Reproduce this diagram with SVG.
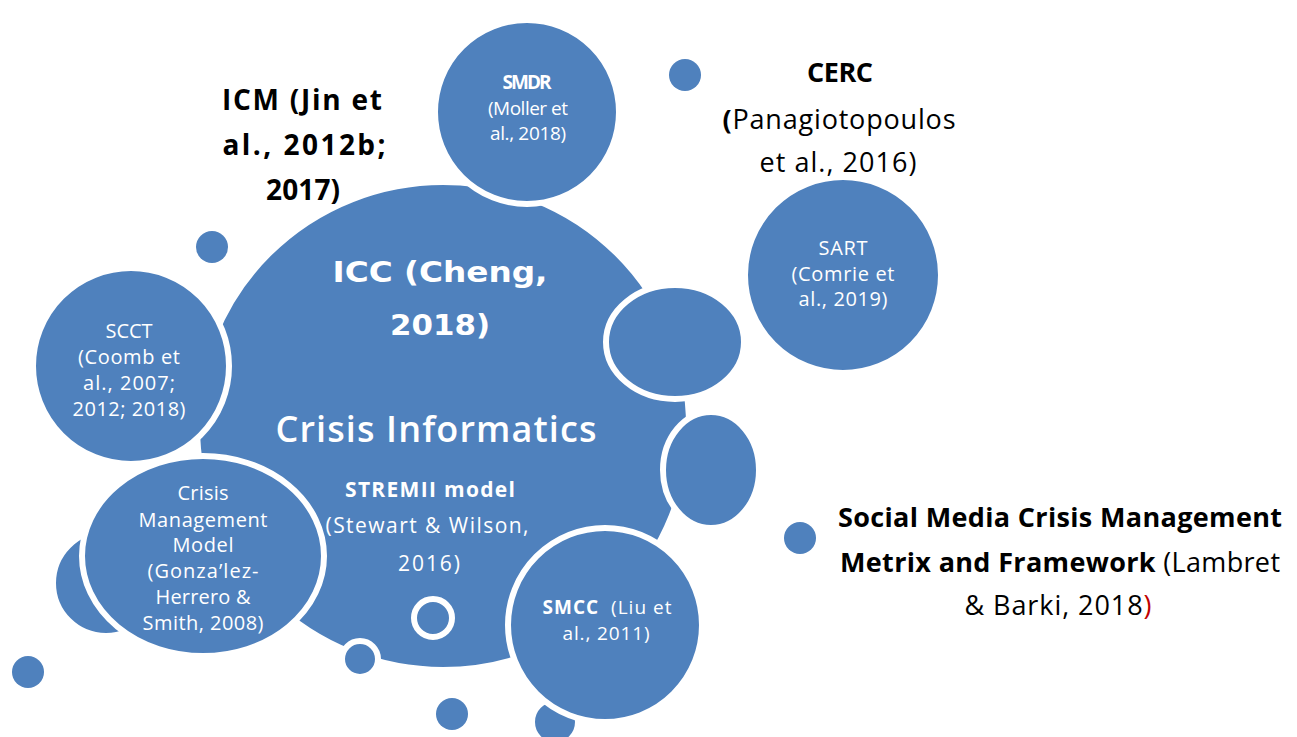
<svg xmlns="http://www.w3.org/2000/svg" width="1297" height="737" viewBox="0 0 1297 737">
<style>
.b{fill:#4f81bd;stroke:#fff;stroke-width:6}
.d{fill:#4f81bd}
.t{font-family:"Open Sans",Lato,sans-serif;fill:#fff;text-anchor:middle}
.k{font-family:"Open Sans",Lato,sans-serif;fill:#000;text-anchor:middle}
.v{font-family:"DejaVu Sans",sans-serif;font-weight:bold;fill:#fff;text-anchor:middle}
.bo{font-weight:bold}
</style>
<rect width="1297" height="737" fill="#fff"/>
<g id="dots">
<circle class="d" cx="685" cy="75" r="16"/>
<circle class="d" cx="212" cy="247" r="16"/>
<circle class="d" cx="28" cy="672" r="16"/>
<circle class="d" cx="800" cy="538" r="16"/>
<circle class="d" cx="452" cy="714" r="16"/>
</g>
<g id="crisis-informatics">
<ellipse class="b" cx="443" cy="426" rx="246" ry="244"/>
<text class="v" x="440" y="282" font-size="28" textLength="215" lengthAdjust="spacingAndGlyphs">ICC (Cheng,</text>
<text class="v" x="440" y="335" font-size="28" textLength="100" lengthAdjust="spacingAndGlyphs">2018)</text>
<text class="t" x="436" y="442" font-size="36" font-weight="600" textLength="321">Crisis Informatics</text>
<text class="t bo" x="430" y="497" font-size="21" textLength="170">STREMII model</text>
<text class="t" x="427" y="533" font-size="21" textLength="203">(Stewart &amp; Wilson,</text>
<text class="t" x="429" y="571" font-size="21" textLength="62">2016)</text>
</g>
<g id="smdr">
<circle class="b" cx="527" cy="112" r="92"/>
<text class="t bo" x="527" y="89" font-size="19" textLength="49">SMDR</text>
<text class="t" x="528" y="115" font-size="19" textLength="80">(Moller et</text>
<text class="t" x="528" y="140" font-size="19" textLength="76">al., 2018)</text>
</g>
<g id="blob-a"><ellipse class="b" cx="675" cy="342" rx="69" ry="57"/></g>
<g id="blob-b"><ellipse class="b" cx="711" cy="470" rx="48" ry="58"/></g>
<g id="sart">
<circle class="b" cx="843" cy="275" r="98"/>
<text class="t" x="843" y="255" font-size="20" textLength="49">SART</text>
<text class="t" x="843" y="281" font-size="20" textLength="103">(Comrie et</text>
<text class="t" x="843" y="306" font-size="20" textLength="89">al., 2019)</text>
</g>
<g id="scct">
<circle class="b" cx="131" cy="366" r="98"/>
<text class="t" x="129" y="338" font-size="20" textLength="47">SCCT</text>
<text class="t" x="129" y="364" font-size="20" textLength="102">(Coomb et</text>
<text class="t" x="129" y="390" font-size="20" textLength="92">al., 2007;</text>
<text class="t" x="129" y="416" font-size="20" textLength="113">2012; 2018)</text>
</g>
<g id="blob-c"><circle class="b" cx="106" cy="583" r="53"/></g>
<g id="cmm">
<ellipse class="b" cx="203" cy="556" rx="121" ry="100"/>
<text class="t" x="203" y="500" font-size="20" textLength="51">Crisis</text>
<text class="t" x="203" y="527" font-size="20" textLength="129">Management</text>
<text class="t" x="203" y="552" font-size="20" textLength="61">Model</text>
<text class="t" x="203" y="578" font-size="20" textLength="111">(Gonza’lez-</text>
<text class="t" x="203" y="604" font-size="20" textLength="95">Herrero &amp;</text>
<text class="t" x="203" y="630" font-size="20" textLength="121">Smith, 2008)</text>
</g>
<g id="ring"><circle class="b" cx="433" cy="618" r="19"/></g>
<g id="dot-b"><circle class="b" cx="360" cy="659" r="18"/></g>
<g id="dot-c"><circle class="b" cx="555" cy="722" r="23"/></g>
<g id="smcc">
<circle class="b" cx="605" cy="625" r="97"/>
<text class="t" x="607" y="614" font-size="19" textLength="129" xml:space="preserve"><tspan font-weight="bold">SMCC</tspan>  (Liu et</text>
<text class="t" x="606" y="640" font-size="19" textLength="87">al., 2011)</text>
</g>
<g id="icm">
<text class="k bo" x="302" y="110" font-size="28" textLength="160">ICM (Jin et</text>
<text class="k bo" x="304" y="155" font-size="28" textLength="163">al., 2012b;</text>
<text class="k bo" x="303" y="200" font-size="28" textLength="74">2017)</text>
</g>
<g id="cerc">
<text class="k bo" x="840" y="82" font-size="27" textLength="66">CERC</text>
<text class="k" x="839" y="129" font-size="27" textLength="233"><tspan font-weight="bold">(</tspan>Panagiotopoulos</text>
<text class="k" x="838" y="172" font-size="27" textLength="157">et al., 2016)</text>
</g>
<g id="smcmf">
<text class="k bo" x="1060" y="527" font-size="27" textLength="444">Social Media Crisis Management</text>
<text class="k" x="1060" y="572" font-size="27" textLength="440"><tspan font-weight="bold">Metrix and Framework</tspan> (Lambret</text>
<text class="k" x="1058" y="615" font-size="27" textLength="187">&amp; Barki, 2018<tspan fill="#c00000">)</tspan></text>
</g>
<g id="connectors"/>
</svg>
